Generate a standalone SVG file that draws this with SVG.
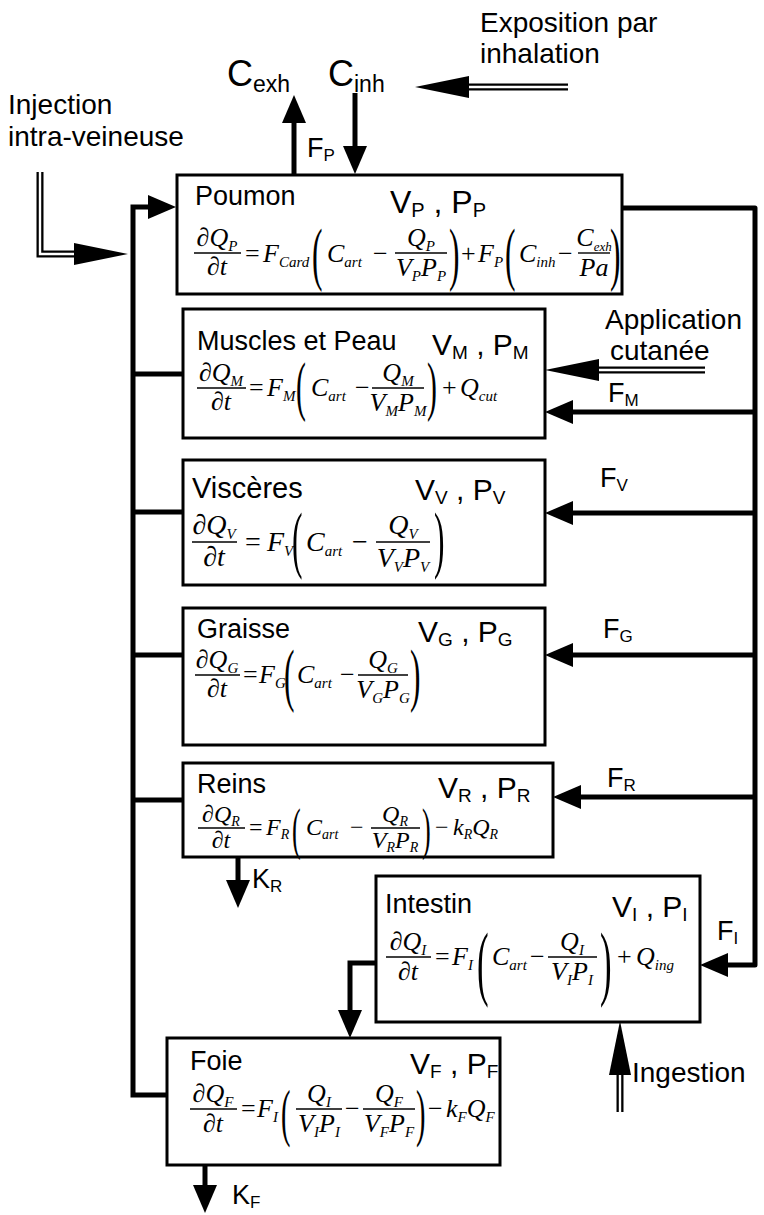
<svg xmlns="http://www.w3.org/2000/svg" width="764" height="1215" viewBox="0 0 764 1215">
<defs>
<style>
.t{font-family:"Liberation Sans",Arial,Helvetica,sans-serif;font-size:27px;fill:#000}
.v{font-size:30px}
.ts{font-size:17px}
.vs{font-size:19px}
.e{font-family:"Liberation Serif","Times New Roman",serif;font-style:italic;font-size:26px;fill:#000}
.eb{font-size:28px}
.en{font-size:24px}
.es{font-size:15px}
.o{font-style:normal}
.p{font-family:"Liberation Serif","Times New Roman",serif;font-size:70px;fill:#000}
.box{fill:#fff;stroke:#000;stroke-width:3}
.ln{fill:none;stroke:#000;stroke-width:5}
.bar{stroke:#000;stroke-width:1.4}
.dbl{fill:none;stroke:#000;stroke-width:7}
.dblw{fill:none;stroke:#fff;stroke-width:2.4}
</style>
<marker id="h" markerUnits="userSpaceOnUse" viewBox="0 -12 28 24" markerWidth="28" markerHeight="24" refX="0" refY="0" orient="auto"><path d="M0,-12 L28,0 L0,12 z" fill="#000"/></marker>
<marker id="hl" markerUnits="userSpaceOnUse" viewBox="0 -11 54 22" markerWidth="54" markerHeight="22" refX="0" refY="0" orient="auto"><path d="M0,-11 L54,0 L0,11 z" fill="#000"/></marker>
</defs>
<rect width="764" height="1215" fill="#fff"/>

<g id="connectors">
<path class="ln" d="M167,1095 H133 V207 H148" marker-end="url(#h)"/>
<path class="ln" d="M133,374 H183"/>
<path class="ln" d="M133,512 H183"/>
<path class="ln" d="M133,655 H183"/>
<path class="ln" d="M133,800 H183"/>
<path class="ln" d="M622,208 H755 V965 H728" stroke-linejoin="round" marker-end="url(#h)"/>
<path class="ln" d="M755,412 H573" marker-end="url(#h)"/>
<path class="ln" d="M755,513 H573" marker-end="url(#h)"/>
<path class="ln" d="M755,655 H573" marker-end="url(#h)"/>
<path class="ln" d="M755,797 H581" marker-end="url(#h)"/>
<path class="ln" d="M294,175 V123" marker-end="url(#h)"/>
<path class="ln" d="M355,93 V146" marker-end="url(#h)"/>
<path class="ln" d="M238,858 V880" marker-end="url(#h)"/>
<path class="ln" d="M205,1166 V1185" marker-end="url(#h)"/>
<path class="ln" d="M376,963 H350 V1010" marker-end="url(#h)"/>
<path class="dbl" d="M568,87 H469" marker-end="url(#hl)"/>
<path class="dblw" d="M568,87 H469"/>
<path class="dbl" d="M40,172 V254 H74" marker-end="url(#hl)"/>
<path class="dblw" d="M40,172 V254 H74"/>
<path class="dbl" d="M705,370 H599" marker-end="url(#hl)"/>
<path class="dblw" d="M705,370 H599"/>
<path class="dbl" d="M620,1112 V1075" marker-end="url(#hl)"/>
<path class="dblw" d="M620,1112 V1075"/>
</g>

<g id="labels">
<text class="t" style="font-size:28px" x="480" y="32">Exposition par</text>
<text class="t" style="font-size:28px" x="480" y="63">inhalation</text>
<text class="t" style="font-size:28px" x="8" y="114">Injection</text>
<text class="t" style="font-size:28px" x="8" y="146">intra-veineuse</text>
<text class="t" style="font-size:36px" x="227" y="86">C<tspan style="font-size:23px" dy="6">exh</tspan></text>
<text class="t" style="font-size:36px" x="328" y="86">C<tspan style="font-size:23px" dy="6">inh</tspan></text>
<text class="t" x="307" y="157">F<tspan class="ts" dy="4">P</tspan></text>
<text class="t" style="font-size:28px" x="605" y="329">Application</text>
<text class="t" style="font-size:28px" x="610" y="360">cutanée</text>
<text class="t" x="608" y="402">F<tspan class="ts" dy="4">M</tspan></text>
<text class="t" x="600" y="487">F<tspan class="ts" dy="4">V</tspan></text>
<text class="t" x="603" y="638">F<tspan class="ts" dy="4">G</tspan></text>
<text class="t" x="607" y="787">F<tspan class="ts" dy="4">R</tspan></text>
<text class="t" x="717" y="940">F<tspan class="ts" dy="4">I</tspan></text>
<text class="t" x="252" y="888">K<tspan class="ts" dy="4">R</tspan></text>
<text class="t" x="232" y="1204">K<tspan class="ts" dy="4">F</tspan></text>
<text class="t" style="font-size:28px" x="632" y="1082">Ingestion</text>
</g>

<g id="poumon">
<rect class="box" x="177" y="175" width="445" height="119"/>
<text class="t" x="195" y="205">Poumon</text>
<text class="t v" style="font-size:32px" x="390" y="213">V<tspan style="font-size:20px" dy="4">P</tspan><tspan dy="-4"> , P</tspan><tspan style="font-size:20px" dy="4">P</tspan></text>
<text class="e" x="217" y="246" text-anchor="middle">∂Q<tspan class="es" dy="5">P</tspan></text>
<line class="bar" x1="194" y1="253" x2="241" y2="253"/>
<text class="e" x="217" y="275" text-anchor="middle">∂t</text>
<text class="e o" x="245" y="262">=</text>
<text class="e" x="263" y="262">F<tspan class="es" dy="5">Card</tspan></text>
<text class="p" transform="matrix(0.45 0 0 1 312 277)">(</text>
<text class="e" x="327" y="262">C<tspan class="es" dy="5">art</tspan></text>
<text class="e o" x="373" y="262">−</text>
<text class="e" x="421" y="246" text-anchor="middle">Q<tspan class="es" dy="5">P</tspan></text>
<line class="bar" x1="395" y1="253" x2="447" y2="253"/>
<text class="e" x="421" y="276" text-anchor="middle">V<tspan class="es" dy="5">P</tspan><tspan dy="-5">P</tspan><tspan class="es" dy="5">P</tspan></text>
<text class="p" transform="matrix(0.45 0 0 1 449 277)">)</text>
<text class="e o" x="461" y="262">+</text>
<text class="e" x="478" y="262">F<tspan class="es" dy="5">P</tspan></text>
<text class="p" transform="matrix(0.45 0 0 1 505 277)">(</text>
<text class="e" x="519" y="262">C<tspan class="es" dy="5">inh</tspan></text>
<text class="e o" x="558" y="262">−</text>
<text class="e" x="594" y="246" text-anchor="middle">C<tspan class="es" style="font-size:13px" dy="5">exh</tspan></text>
<line class="bar" x1="578" y1="253" x2="610" y2="253"/>
<text class="e" x="594" y="276" text-anchor="middle">Pa</text>
<text class="p" transform="matrix(0.45 0 0 1 610 277)">)</text>
</g>

<g id="muscles">
<rect class="box" x="183" y="309" width="362" height="129"/>
<text class="t" x="197" y="350">Muscles et Peau</text>
<text class="t v" x="432" y="355">V<tspan class="vs" dy="4">M</tspan><tspan dy="-4"> , P</tspan><tspan class="vs" dy="4">M</tspan></text>
<text class="e" x="221" y="381" text-anchor="middle">∂Q<tspan class="es" dy="5">M</tspan></text>
<line class="bar" x1="197" y1="388" x2="246" y2="388"/>
<text class="e" x="221" y="410" text-anchor="middle">∂t</text>
<text class="e o" x="249" y="396">=</text>
<text class="e" x="267" y="396">F<tspan class="es" dy="5">M</tspan></text>
<text class="p" style="font-size:66px" transform="matrix(0.45 0 0 1 296 408)">(</text>
<text class="e" x="311" y="396">C<tspan class="es" dy="5">art</tspan></text>
<text class="e o" x="355" y="396">−</text>
<text class="e" x="398" y="381" text-anchor="middle">Q<tspan class="es" dy="5">M</tspan></text>
<line class="bar" x1="372" y1="388" x2="424" y2="388"/>
<text class="e" x="398" y="411" text-anchor="middle">V<tspan class="es" dy="5">M</tspan><tspan dy="-5">P</tspan><tspan class="es" dy="5">M</tspan></text>
<text class="p" style="font-size:66px" transform="matrix(0.45 0 0 1 427 408)">)</text>
<text class="e o" x="442" y="396">+</text>
<text class="e" x="460" y="396">Q<tspan class="es" dy="5">cut</tspan></text>
</g>

<g id="visceres">
<rect class="box" x="183" y="460" width="362" height="125"/>
<text class="t" style="font-size:29px" x="192" y="498">Viscères</text>
<text class="t v" x="415" y="500">V<tspan class="vs" dy="4">V</tspan><tspan dy="-4"> , P</tspan><tspan class="vs" dy="4">V</tspan></text>
<text class="e eb" x="214" y="534" text-anchor="middle">∂Q<tspan class="es" dy="5">V</tspan></text>
<line class="bar" x1="192" y1="542" x2="237" y2="542"/>
<text class="e eb" x="214" y="566" text-anchor="middle">∂t</text>
<text class="e eb o" x="245" y="551">=</text>
<text class="e eb" x="267" y="551">F<tspan class="es" dy="5">V</tspan></text>
<text class="p" style="font-size:75px" transform="matrix(0.42 0 0 1 292 564)">(</text>
<text class="e eb" x="306" y="551">C<tspan class="es" dy="5">art</tspan></text>
<text class="e eb o" x="352" y="551">−</text>
<text class="e eb" x="403" y="534" text-anchor="middle">Q<tspan class="es" dy="5">V</tspan></text>
<line class="bar" x1="376" y1="542" x2="430" y2="542"/>
<text class="e eb" x="403" y="567" text-anchor="middle">V<tspan class="es" dy="5">V</tspan><tspan dy="-5">P</tspan><tspan class="es" dy="5">V</tspan></text>
<text class="p" style="font-size:75px" transform="matrix(0.42 0 0 1 434 564)">)</text>
</g>

<g id="graisse">
<rect class="box" x="183" y="608" width="362" height="137"/>
<text class="t" x="197" y="638">Graisse</text>
<text class="t v" x="418" y="642">V<tspan class="vs" dy="4">G</tspan><tspan dy="-4"> , P</tspan><tspan class="vs" dy="4">G</tspan></text>
<text class="e" x="217" y="668" text-anchor="middle">∂Q<tspan class="es" dy="5">G</tspan></text>
<line class="bar" x1="195" y1="675" x2="240" y2="675"/>
<text class="e" x="217" y="697" text-anchor="middle">∂t</text>
<text class="e o" x="243" y="683">=</text>
<text class="e" x="259" y="683">F<tspan class="es" dy="5">G</tspan></text>
<text class="p" transform="matrix(0.45 0 0 1 284 698)">(</text>
<text class="e" x="297" y="683">C<tspan class="es" dy="5">art</tspan></text>
<text class="e o" x="340" y="683">−</text>
<text class="e" x="383" y="668" text-anchor="middle">Q<tspan class="es" dy="5">G</tspan></text>
<line class="bar" x1="358" y1="675" x2="408" y2="675"/>
<text class="e" x="383" y="698" text-anchor="middle">V<tspan class="es" dy="5">G</tspan><tspan dy="-5">P</tspan><tspan class="es" dy="5">G</tspan></text>
<text class="p" transform="matrix(0.45 0 0 1 410 698)">)</text>
</g>

<g id="reins">
<rect class="box" x="183" y="763" width="370" height="94"/>
<text class="t" x="197" y="793">Reins</text>
<text class="t v" x="438" y="798">V<tspan class="vs" dy="4">R</tspan><tspan dy="-4"> , P</tspan><tspan class="vs" dy="4">R</tspan></text>
<text class="e en" x="221" y="822" text-anchor="middle">∂Q<tspan class="es" style="font-size:14px" dy="4">R</tspan></text>
<line class="bar" x1="198" y1="828" x2="245" y2="828"/>
<text class="e en" x="221" y="848" text-anchor="middle">∂t</text>
<text class="e en o" x="249" y="835">=</text>
<text class="e en" x="266" y="835">F<tspan class="es" style="font-size:14px" dy="4">R</tspan></text>
<text class="p" style="font-size:58px" transform="matrix(0.45 0 0 1 292 848)">(</text>
<text class="e en" x="306" y="835">C<tspan class="es" style="font-size:14px" dy="4">art</tspan></text>
<text class="e en o" x="350" y="835">−</text>
<text class="e en" x="395" y="822" text-anchor="middle">Q<tspan class="es" style="font-size:14px" dy="4">R</tspan></text>
<line class="bar" x1="371" y1="828" x2="420" y2="828"/>
<text class="e en" x="395" y="848" text-anchor="middle">V<tspan class="es" style="font-size:14px" dy="4">R</tspan><tspan dy="-4">P</tspan><tspan class="es" style="font-size:14px" dy="4">R</tspan></text>
<text class="p" style="font-size:58px" transform="matrix(0.45 0 0 1 422 848)">)</text>
<text class="e en o" x="435" y="835">−</text>
<text class="e en" x="453" y="835">k<tspan class="es" style="font-size:14px" dy="4">R</tspan><tspan dy="-4">Q</tspan><tspan class="es" style="font-size:14px" dy="4">R</tspan></text>
</g>

<g id="intestin">
<rect class="box" x="376" y="876" width="324" height="146"/>
<text class="t" x="385" y="913">Intestin</text>
<text class="t v" x="612" y="917">V<tspan class="vs" dy="4">I</tspan><tspan dy="-4"> , P</tspan><tspan class="vs" dy="4">I</tspan></text>
<text class="e" x="408" y="950" text-anchor="middle">∂Q<tspan class="es" dy="5">I</tspan></text>
<line class="bar" x1="386" y1="957" x2="431" y2="957"/>
<text class="e" x="408" y="980" text-anchor="middle">∂t</text>
<text class="e o" x="435" y="965">=</text>
<text class="e" x="452" y="965">F<tspan class="es" dy="5">I</tspan></text>
<text class="p" style="font-size:83px" transform="matrix(0.42 0 0 1 477 990)">(</text>
<text class="e" x="492" y="965">C<tspan class="es" dy="5">art</tspan></text>
<text class="e o" x="530" y="965">−</text>
<text class="e" x="572" y="950" text-anchor="middle">Q<tspan class="es" dy="5">I</tspan></text>
<line class="bar" x1="548" y1="957" x2="597" y2="957"/>
<text class="e" x="572" y="980" text-anchor="middle">V<tspan class="es" dy="5">I</tspan><tspan dy="-5">P</tspan><tspan class="es" dy="5">I</tspan></text>
<text class="p" style="font-size:83px" transform="matrix(0.42 0 0 1 600 990)">)</text>
<text class="e o" x="617" y="965">+</text>
<text class="e" x="636" y="965">Q<tspan class="es" dy="5">ing</tspan></text>
</g>

<g id="foie">
<rect class="box" x="167" y="1038" width="333" height="127"/>
<text class="t" x="190" y="1070">Foie</text>
<text class="t v" x="410" y="1074">V<tspan class="vs" dy="4">F</tspan><tspan dy="-4"> , P</tspan><tspan class="vs" dy="4">F</tspan></text>
<text class="e" x="213" y="1102" text-anchor="middle">∂Q<tspan class="es" dy="5">F</tspan></text>
<line class="bar" x1="190" y1="1109" x2="237" y2="1109"/>
<text class="e" x="213" y="1132" text-anchor="middle">∂t</text>
<text class="e o" x="241" y="1117">=</text>
<text class="e" x="257" y="1117">F<tspan class="es" dy="5">I</tspan></text>
<text class="p" style="font-size:63px" transform="matrix(0.45 0 0 1 281 1134)">(</text>
<text class="e" x="319" y="1102" text-anchor="middle">Q<tspan class="es" dy="5">I</tspan></text>
<line class="bar" x1="296" y1="1109" x2="342" y2="1109"/>
<text class="e" x="319" y="1132" text-anchor="middle">V<tspan class="es" dy="5">I</tspan><tspan dy="-5">P</tspan><tspan class="es" dy="5">I</tspan></text>
<text class="e o" x="345" y="1117">−</text>
<text class="e" x="389" y="1102" text-anchor="middle">Q<tspan class="es" dy="5">F</tspan></text>
<line class="bar" x1="363" y1="1109" x2="415" y2="1109"/>
<text class="e" x="389" y="1132" text-anchor="middle">V<tspan class="es" dy="5">F</tspan><tspan dy="-5">P</tspan><tspan class="es" dy="5">F</tspan></text>
<text class="p" style="font-size:63px" transform="matrix(0.45 0 0 1 416 1134)">)</text>
<text class="e o" x="428" y="1117">−</text>
<text class="e" x="446" y="1117">k<tspan class="es" dy="5">F</tspan><tspan dy="-5">Q</tspan><tspan class="es" dy="5">F</tspan></text>
</g>
</svg>
